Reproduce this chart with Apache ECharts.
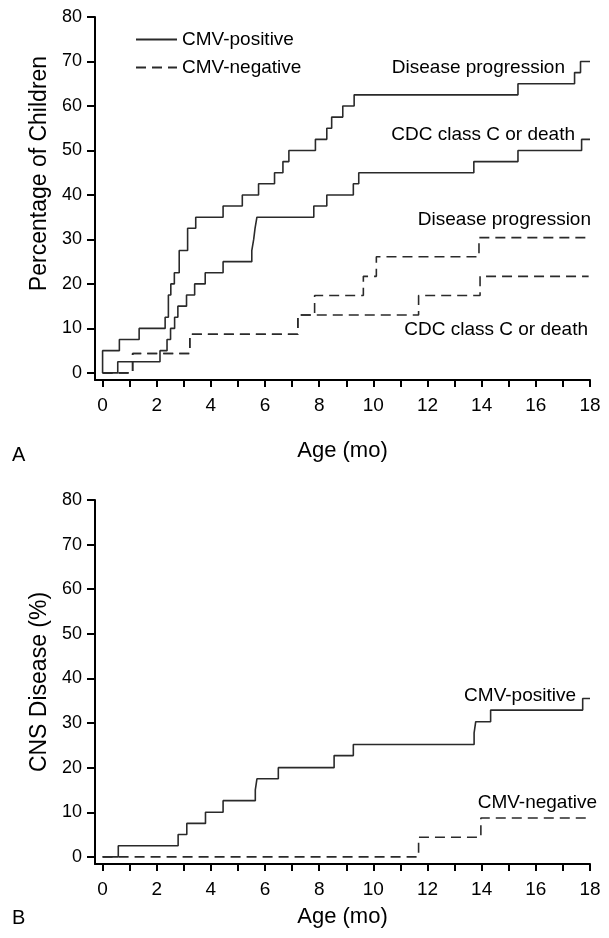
<!DOCTYPE html>
<html><head><meta charset="utf-8">
<script src="https://cdn.jsdelivr.net/npm/echarts@6/dist/echarts.min.js"></script>
<style>html,body{margin:0;padding:0;background:#fff}#c{width:609px;height:938px}</style>
</head><body><div id="c"></div>
<script>
// Axis ticks / labels
const ageTicks = [0,1,2,3,4,5,6,7,8,9,10,11,12,13,14,15,16,17,18];
const ageLabels = [0,2,4,6,8,10,12,14,16,18];
const pctLabels = [0,10,20,30,40,50,60,70,80];

// Panel A – CMV-positive, disease progression
const aPosProgT = [0, 0, 0.62, 1.35, 2.31, 2.43, 2.52, 2.65, 2.83, 3.14, 3.44, 4.45, 5.16, 5.76, 6.35, 6.66, 6.88, 7.86, 8.28, 8.46, 8.87, 9.29, 15.34, 17.43, 17.65, 18];
const aPosProgV = [0, 5, 7.5, 10, 12.5, 17.5, 20, 22.5, 27.5, 32.5, 35, 37.5, 40, 42.5, 45, 47.5, 50, 52.5, 55, 57.5, 60, 62.5, 65, 67.5, 70, 70];
// Panel A – CMV-positive, CDC class C or death
const aPosCdcT = [0, 0.56, 2.12, 2.38, 2.51, 2.66, 2.78, 3.10, 3.40, 3.79, 4.45, 5.51, 5.58, 5.63, 5.70, 7.80, 8.28, 9.26, 9.46, 13.71, 15.34, 17.69, 18];
const aPosCdcV = [0, 2.5, 5, 7.5, 10, 12.5, 15, 17.5, 20, 22.5, 25, 27.5, 30, 32.5, 35, 37.5, 40, 42.5, 45, 47.5, 50, 52.5, 52.5];
// Panel A – CMV-negative, disease progression
const aNegProgT = [0, 1.11, 3.22, 7.21, 7.83, 9.63, 10.11, 13.90, 18];
const aNegProgV = [0, 4.35, 8.7, 13.0, 17.4, 21.7, 26.1, 30.4, 30.4];
// Panel A – CMV-negative, CDC class C or death
const aNegCdcT = [0, 1.11, 3.22, 7.21, 11.67, 13.94, 17.95];
const aNegCdcV = [0, 4.35, 8.7, 13.0, 17.4, 21.7, 21.7];

// Panel B – CNS disease
const bPosT = [0, 0.58, 2.79, 3.11, 3.80, 4.45, 5.64, 5.70, 6.49, 8.55, 9.26, 13.72, 13.78, 14.33, 17.73, 18];
const bPosV = [0, 2.5, 5, 7.5, 10, 12.6, 15, 17.5, 20, 22.7, 25.2, 27.8, 30.3, 32.9, 35.5, 35.5];
const bNegT = [0, 11.67, 13.97, 17.9];
const bNegV = [0, 4.4, 8.7, 8.7];

const zip = (t, v) => t.map((x, i) => [x, v[i]]);

const FONT = 'Liberation Sans, Arial, Helvetica, sans-serif';
const LINE = '#2a2a2a';

function xAxis(gi, gap) {
  return {
    gridIndex: gi, type: 'value', min: -0.28, max: 18,
    axisLine: {show: true, onZero: false, lineStyle: {color: '#000', width: 2}},
    axisTick: {show: true, customValues: ageTicks, length: 7, lineStyle: {color: '#000', width: 2}},
    axisLabel: {customValues: ageLabels, fontSize: 19, color: '#000', margin: 16, fontFamily: FONT},
    splitLine: {show: false},
    name: 'Age (mo)', nameLocation: 'middle', nameGap: gap,
    nameTextStyle: {fontSize: 22, color: '#000', fontFamily: FONT}
  };
}
function yAxis(gi, name, shift) {
  return {
    gridIndex: gi, type: 'value', min: -1.6, max: 80,
    axisLine: {show: true, onZero: false, lineStyle: {color: '#000', width: 2}},
    axisTick: {show: true, customValues: pctLabels, length: 8, lineStyle: {color: '#000', width: 2}},
    axisLabel: {customValues: pctLabels, fontSize: 18, color: '#000', margin: 13, fontFamily: FONT},
    splitLine: {show: false},
    name: name, nameLocation: 'middle', nameGap: 44,
    nameTextStyle: {fontSize: 23, color: '#000', fontFamily: FONT, padding: [0, 0, 0, shift]}
  };
}
function km(name, gi, data, dashed) {
  return {
    name: name, type: 'line', step: 'end', xAxisIndex: gi, yAxisIndex: gi,
    data: data, symbol: 'none', silent: true,
    lineStyle: {color: LINE, width: 1.6, type: dashed ? [10, 6] : 'solid'},
    itemStyle: {color: LINE}
  };
}
function label(text, right, cy) {
  return {type: 'text', style: {text: text, x: right, y: cy, align: 'right', textAlign: 'right',
    verticalAlign: 'middle', textVerticalAlign: 'middle', fill: '#000', font: '19px ' + FONT}};
}
function plain(text, x, cy, size) {
  return {type: 'text', style: {text: text, x: x, y: cy, align: 'left', textAlign: 'left',
    verticalAlign: 'middle', textVerticalAlign: 'middle', fill: '#000', font: size + 'px ' + FONT}};
}

const chart = echarts.init(document.getElementById('c'), null, {renderer: 'canvas'});
chart.setOption({
  animation: false,
  backgroundColor: '#fff',
  grid: [
    {left: 95, right: 19, top: 17, height: 363},
    {left: 95, right: 19, top: 500, height: 364}
  ],
  xAxis: [xAxis(0, 60), xAxis(1, 42)],
  yAxis: [yAxis(0, 'Percentage of Children', 50), yAxis(1, 'CNS Disease (%)', 0)],
  legend: {
    data: ['CMV-positive', 'CMV-negative'], orient: 'vertical', left: 130, top: 25,
    itemWidth: 41, itemHeight: 14, itemGap: 9, selectedMode: false,
    itemStyle: {color: 'rgba(0,0,0,0)', borderWidth: 0, opacity: 0},
    textStyle: {fontSize: 19, color: '#000', fontFamily: FONT}
  },
  series: [
    km('CMV-positive', 0, zip(aPosProgT, aPosProgV), false),
    km('CMV-positive', 0, zip(aPosCdcT, aPosCdcV), false),
    km('CMV-negative', 0, zip(aNegProgT, aNegProgV), true),
    km('CMV-negative', 0, zip(aNegCdcT, aNegCdcV), true),
    km('CMV-positive', 1, zip(bPosT, bPosV), false),
    km('CMV-negative', 1, zip(bNegT, bNegV), true)
  ],
  graphic: [
    label('Disease progression', 565, 68),
    label('CDC class C or death', 575, 135),
    label('Disease progression', 591, 220),
    label('CDC class C or death', 588, 330),
    label('CMV-positive', 576, 696),
    label('CMV-negative', 597, 803),
    plain('A', 12, 455, 20),
    plain('B', 12, 918, 20)
  ]
});
</script>
</body></html>
